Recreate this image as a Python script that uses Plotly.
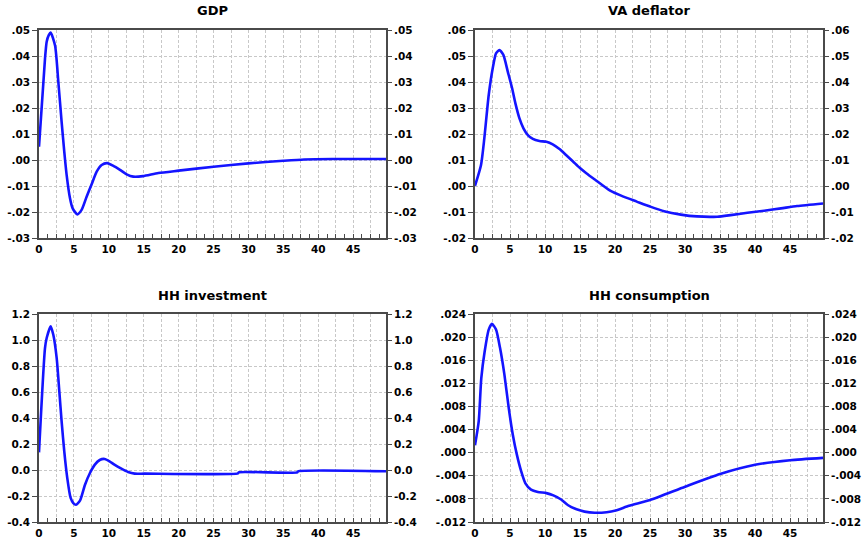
import plotly.graph_objects as go

# ---------------- data ----------------
gdp_t = [0, 0.86, 1.1, 1.4, 1.67, 2.3, 2.77, 3.24, 3.62, 3.96, 4.44, 4.82, 5.49, 6.1, 6.82, 7.5,
         8.26, 8.97, 9.78, 10.6, 11.6, 12.55, 13.5, 14.9, 17.1, 20, 25, 30, 35, 38, 42, 49.7]
gdp_v = [0.0051, 0.039, 0.0455, 0.048, 0.049, 0.044, 0.030, 0.0147, 0.0032, -0.0058, -0.0147,
         -0.0186, -0.0209, -0.0192, -0.0141, -0.0096, -0.0045, -0.0019, -0.0012, -0.0022, -0.0038,
         -0.0055, -0.0064, -0.0062, -0.0050, -0.0041, -0.0026, -0.0013, -0.0003, 0.0002, 0.0004, 0.0004]

va_t = [0, 0.86, 1.33, 1.96, 2.53, 3.0, 3.48, 4.05, 4.68, 5.3, 5.77, 6.35, 6.92, 7.55, 8.26, 9.2,
        10.2, 11.1, 12.07, 13.0, 14.0, 14.95, 15.9, 17.2, 19.3, 21.2, 23.1, 25, 27, 29.4, 31.7,
        34.6, 36.5, 38.9, 41.3, 43.7, 46.0, 49.7]
va_v = [0.0001, 0.0081, 0.0183, 0.035, 0.0453, 0.051, 0.0523, 0.0504, 0.044, 0.0376, 0.0318, 0.026,
        0.0222, 0.0196, 0.0181, 0.0173, 0.017, 0.016, 0.0142, 0.0119, 0.0094, 0.007, 0.0049, 0.0023,
        -0.0018, -0.0041, -0.006, -0.0079, -0.0097, -0.011, -0.0117, -0.0118, -0.0112, -0.0103,
        -0.0095, -0.0086, -0.0077, -0.0067]

inv_t = [0, 0.86, 1.1, 1.67, 2.05, 2.53, 2.91, 3.24, 3.62, 4.05, 4.53, 4.91, 5.3, 5.87, 6.59, 7.3,
         8.0, 8.7, 9.4, 10.1, 10.8, 11.8, 12.75, 13.7, 15.1, 28.5, 28.6, 37.0, 37.1, 49.7]
inv_v = [0.136, 0.938, 1.015, 1.105, 1.04, 0.862, 0.605, 0.374, 0.144, -0.062, -0.215, -0.254,
         -0.267, -0.236, -0.113, -0.023, 0.041, 0.077, 0.085, 0.067, 0.041, 0.010, -0.015, -0.028,
         -0.028, -0.026, -0.018, -0.018, -0.010, -0.010]

cons_t = [0, 0.53, 0.9, 1.38, 1.96, 2.43, 3.0, 3.58, 4.2, 4.82, 5.4, 5.97, 6.59, 7.2, 8.0, 8.98,
          10.2, 11.2, 12.3, 13.3, 14.5, 15.65, 17.1, 18.8, 20.1, 22, 25, 30, 35, 40, 45, 49.7]
cons_v = [0.00127, 0.0054, 0.0129, 0.0175, 0.0213, 0.0223, 0.0213, 0.0181, 0.0135, 0.0077, 0.0031,
          -0.0003, -0.0032, -0.0053, -0.0064, -0.0068, -0.0070, -0.0074, -0.0081, -0.0091, -0.0098,
          -0.0102, -0.0104, -0.0103, -0.0100, -0.0092, -0.0082, -0.0059, -0.0037, -0.0021, -0.0013,
          -0.0009]

titles = ["GDP", "VA deflator", "HH investment", "HH consumption"]

gdp_ticks = [0.05, 0.04, 0.03, 0.02, 0.01, 0.0, -0.01, -0.02, -0.03]
gdp_labels = [".05", ".04", ".03", ".02", ".01", ".00", "-.01", "-.02", "-.03"]
va_ticks = [0.06, 0.05, 0.04, 0.03, 0.02, 0.01, 0.0, -0.01, -0.02]
va_labels = [".06", ".05", ".04", ".03", ".02", ".01", ".00", "-.01", "-.02"]
inv_ticks = [1.2, 1.0, 0.8, 0.6, 0.4, 0.2, 0.0, -0.2, -0.4]
inv_labels = ["1.2", "1.0", "0.8", "0.6", "0.4", "0.2", "0.0", "-0.2", "-0.4"]
cons_ticks = [0.024, 0.020, 0.016, 0.012, 0.008, 0.004, 0.0, -0.004, -0.008, -0.012]
cons_labels = [".024", ".020", ".016", ".012", ".008", ".004", ".000", "-.004", "-.008", "-.012"]

x_ticks = [i * 2.5 for i in range(20)]
x_labels = [str(int(v)) if v % 5 == 0 else "" for v in x_ticks]

# ---------------- figure ----------------
W, H = 863, 542
LINE = "#1414ff"
AX = "#4a4a4a"
GRID = "#c8c8c8"
FAM = "DejaVu Sans, Verdana, sans-serif"
FONT = dict(family=FAM, size=10.5, color="black", weight="bold")

panels = [
    (gdp_t, gdp_v, gdp_ticks, gdp_labels, (39, 386), (30, 238)),
    (va_t, va_v, va_ticks, va_labels, (475, 823), (30, 238)),
    (inv_t, inv_v, inv_ticks, inv_labels, (39, 386), (314, 522)),
    (cons_t, cons_v, cons_ticks, cons_labels, (475, 823), (314, 522)),
]

fig = go.Figure()
layout = {}
annotations = []
for k, (tx, vy, tv, tl, (xl, xr), (yt, yb)) in enumerate(panels, start=1):
    xname = "x" if k == 1 else f"x{k}"
    yl_i, yr_i = 2 * k - 1, 2 * k
    yl_name = "y" if yl_i == 1 else f"y{yl_i}"
    yr_name = f"y{yr_i}"
    xkey = "xaxis" if k == 1 else f"xaxis{k}"
    ylkey = "yaxis" if yl_i == 1 else f"yaxis{yl_i}"
    yrkey = f"yaxis{yr_i}"
    rng = [min(tv), max(tv)]

    fig.add_trace(go.Scatter(x=tx, y=vy, mode="lines", xaxis=xname, yaxis=yl_name,
                             line=dict(color=LINE, width=2.6, shape="spline", smoothing=0.6),
                             showlegend=False))
    fig.add_trace(go.Scatter(x=[tx[0]], y=[vy[0]], mode="markers", xaxis=xname, yaxis=yr_name,
                             marker=dict(opacity=0), showlegend=False, hoverinfo="skip"))

    layout[xkey] = dict(
        domain=[xl / W, xr / W], anchor=yl_name, range=[0, 49.7], automargin=False,
        tickmode="array", tickvals=x_ticks, ticktext=x_labels,
        ticks="inside", ticklen=4, tickwidth=1, tickcolor=AX,
        showgrid=True, gridcolor=GRID, griddash="3px,2px", gridwidth=1,
        showline=True, linecolor=AX, linewidth=1.6, mirror=True,
        zeroline=False, tickfont=FONT, ticklabelstandoff=1,
        minor=dict(tickmode="linear", tick0=0, dtick=1.25, ticks="inside", ticklen=4,
                   tickcolor=AX, showgrid=False),
        fixedrange=True,
    )
    layout[ylkey] = dict(
        domain=[1 - yb / H, 1 - yt / H], anchor=xname, range=rng, automargin=False,
        tickmode="array", tickvals=tv, ticktext=tl,
        ticks="outside", ticklen=5, tickcolor=AX,
        showgrid=True, gridcolor=GRID, griddash="3px,2px", gridwidth=1,
        showline=True, linecolor=AX, linewidth=1.6,
        zeroline=False, tickfont=FONT, ticklabelstandoff=0,
    )
    layout[yrkey] = dict(
        overlaying=yl_name, side="right", anchor=xname, range=rng, automargin=False,
        tickmode="array", tickvals=tv, ticktext=tl,
        ticks="outside", ticklen=4, tickcolor=AX,
        showgrid=False, showline=True, linecolor=AX, linewidth=1.6,
        zeroline=False, tickfont=FONT, ticklabelstandoff=0,
    )
    annotations.append(dict(
        text=titles[k - 1], xref="paper", yref="paper",
        x=(xl + xr) / 2 / W, y=1 - (yt - 19) / H, xanchor="center", yanchor="middle",
        showarrow=False,
        font=dict(family=FAM, size=13, color="black", weight="bold"),
    ))

fig.update_layout(
    width=W, height=H, margin=dict(l=0, r=0, t=0, b=0, autoexpand=False),
    paper_bgcolor="white", plot_bgcolor="white",
    annotations=annotations, showlegend=False, **layout,
)

fig.write_html("out.html", config={"displayModeBar": False},
               post_script="document.body.style.margin='0px';")
